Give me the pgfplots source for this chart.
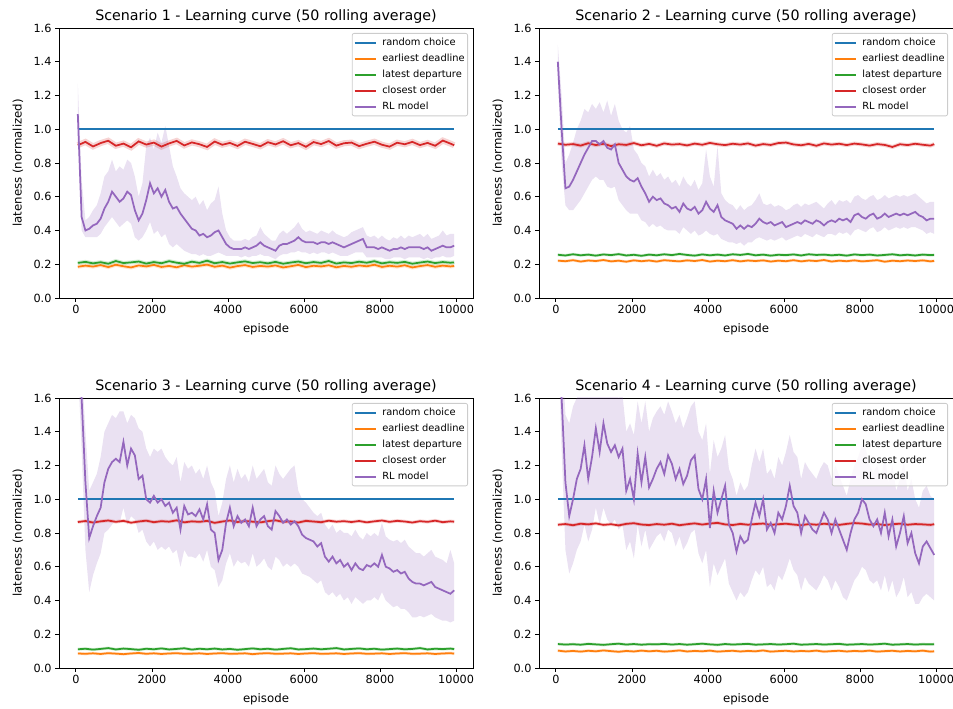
\documentclass[border=0pt]{standalone}
\usepackage{fontspec}
\setmainfont{DejaVu Sans}
\usepackage{pgfplots}
\usepackage{pgfplotstable}
\pgfplotsset{compat=1.18}
\usepgfplotslibrary{fillbetween}
\definecolor{c0}{HTML}{1F77B4}
\definecolor{c1}{HTML}{FF7F0E}
\definecolor{c2}{HTML}{2CA02C}
\definecolor{c3}{HTML}{D62728}
\definecolor{c4}{HTML}{9467BD}
\definecolor{lgframe}{HTML}{CCCCCC}

% ---------- baselines (x, earliest deadline, latest departure, closest order) ----------
\pgfplotstableread{
x ed ld co
50 0.185 0.208 0.905
250 0.192 0.214 0.925
450 0.186 0.205 0.898
650 0.195 0.212 0.918
850 0.183 0.203 0.932
1050 0.197 0.219 0.902
1250 0.188 0.207 0.915
1450 0.181 0.211 0.893
1650 0.193 0.216 0.928
1850 0.187 0.204 0.909
2050 0.196 0.213 0.921
2250 0.184 0.206 0.897
2450 0.190 0.218 0.916
2650 0.182 0.209 0.931
2850 0.194 0.203 0.904
3050 0.186 0.215 0.922
3250 0.191 0.208 0.911
3450 0.198 0.221 0.895
3650 0.185 0.206 0.927
3850 0.192 0.213 0.908
4050 0.180 0.204 0.919
4250 0.189 0.211 0.901
4450 0.195 0.217 0.926
4650 0.184 0.207 0.913
4850 0.190 0.212 0.899
5050 0.186 0.205 0.923
5250 0.193 0.214 0.910
5450 0.181 0.203 0.929
5650 0.188 0.210 0.905
5850 0.196 0.216 0.918
6050 0.183 0.206 0.896
6250 0.191 0.213 0.924
6450 0.187 0.208 0.912
6650 0.194 0.219 0.930
6850 0.182 0.204 0.903
7050 0.190 0.211 0.917
7250 0.185 0.207 0.921
7450 0.193 0.215 0.900
7650 0.188 0.209 0.914
7850 0.197 0.218 0.926
8050 0.184 0.205 0.908
8250 0.191 0.212 0.897
8450 0.186 0.208 0.920
8650 0.194 0.214 0.911
8850 0.181 0.203 0.925
9050 0.189 0.210 0.906
9250 0.195 0.216 0.919
9450 0.185 0.207 0.902
9650 0.192 0.213 0.933
9850 0.187 0.209 0.915
9950 0.190 0.211 0.905
}\baseA

\pgfplotstableread{
x ed ld co
50 0.221 0.256 0.915
250 0.218 0.252 0.908
450 0.224 0.259 0.912
650 0.216 0.253 0.903
850 0.222 0.257 0.917
1050 0.219 0.251 0.906
1250 0.225 0.258 0.914
1450 0.217 0.254 0.900
1650 0.221 0.260 0.911
1850 0.215 0.252 0.907
2050 0.223 0.256 0.918
2250 0.218 0.250 0.905
2450 0.222 0.257 0.913
2650 0.216 0.253 0.902
2850 0.224 0.259 0.916
3050 0.220 0.254 0.909
3250 0.217 0.261 0.912
3450 0.223 0.255 0.904
3650 0.219 0.251 0.915
3850 0.225 0.258 0.908
4050 0.216 0.253 0.919
4250 0.221 0.257 0.911
4450 0.218 0.252 0.906
4650 0.224 0.259 0.914
4850 0.217 0.255 0.909
5050 0.222 0.261 0.916
5250 0.219 0.253 0.903
5450 0.223 0.257 0.912
5650 0.216 0.251 0.907
5850 0.221 0.256 0.918
6050 0.218 0.254 0.921
6250 0.224 0.258 0.910
6450 0.217 0.252 0.905
6650 0.222 0.259 0.913
6850 0.219 0.255 0.902
7050 0.225 0.257 0.916
7250 0.216 0.253 0.909
7450 0.221 0.256 0.914
7650 0.218 0.251 0.906
7850 0.223 0.258 0.915
8050 0.217 0.254 0.910
8250 0.220 0.257 0.903
8450 0.224 0.252 0.912
8650 0.215 0.255 0.907
8850 0.221 0.259 0.895
9050 0.218 0.253 0.911
9250 0.222 0.256 0.906
9450 0.219 0.252 0.914
9650 0.223 0.257 0.908
9850 0.217 0.254 0.903
9950 0.220 0.255 0.912
}\baseB

\pgfplotstableread{
x ed ld co
50 0.086 0.111 0.865
250 0.084 0.114 0.871
450 0.087 0.109 0.862
650 0.083 0.113 0.869
850 0.088 0.118 0.874
1050 0.085 0.110 0.866
1250 0.082 0.115 0.872
1450 0.086 0.112 0.861
1650 0.089 0.108 0.868
1850 0.084 0.114 0.873
2050 0.087 0.111 0.864
2250 0.083 0.116 0.870
2450 0.086 0.110 0.867
2650 0.088 0.113 0.875
2850 0.084 0.117 0.863
3050 0.085 0.109 0.869
3250 0.087 0.114 0.866
3450 0.083 0.111 0.872
3650 0.086 0.115 0.860
3850 0.088 0.110 0.868
4050 0.084 0.113 0.874
4250 0.085 0.108 0.865
4450 0.087 0.112 0.871
4650 0.082 0.116 0.867
4850 0.086 0.111 0.863
5050 0.088 0.114 0.870
5250 0.084 0.109 0.875
5450 0.085 0.113 0.866
5650 0.087 0.117 0.869
5850 0.083 0.110 0.862
6050 0.086 0.112 0.872
6250 0.088 0.115 0.868
6450 0.084 0.111 0.864
6650 0.085 0.114 0.873
6850 0.087 0.118 0.867
7050 0.083 0.110 0.870
7250 0.086 0.113 0.865
7450 0.088 0.116 0.871
7650 0.084 0.111 0.863
7850 0.085 0.114 0.869
8050 0.087 0.109 0.874
8250 0.083 0.112 0.866
8450 0.086 0.115 0.872
8650 0.088 0.111 0.868
8850 0.084 0.113 0.862
9050 0.085 0.118 0.870
9250 0.087 0.110 0.866
9450 0.083 0.114 0.873
9650 0.086 0.112 0.864
9850 0.088 0.115 0.869
9950 0.085 0.112 0.867
}\baseC

\pgfplotstableread{
x ed ld co
50 0.103 0.142 0.849
250 0.098 0.139 0.853
450 0.101 0.141 0.846
650 0.097 0.138 0.855
850 0.102 0.143 0.851
1050 0.099 0.140 0.857
1250 0.104 0.137 0.848
1450 0.100 0.141 0.852
1650 0.096 0.144 0.845
1850 0.101 0.139 0.854
2050 0.098 0.142 0.858
2250 0.103 0.138 0.850
2450 0.099 0.141 0.847
2650 0.102 0.140 0.853
2850 0.097 0.143 0.849
3050 0.100 0.139 0.855
3250 0.104 0.142 0.846
3450 0.098 0.138 0.852
3650 0.101 0.141 0.857
3850 0.099 0.144 0.850
4050 0.103 0.140 0.856
4250 0.097 0.137 0.860
4450 0.100 0.142 0.851
4650 0.102 0.139 0.847
4850 0.098 0.141 0.854
5050 0.101 0.143 0.849
5250 0.099 0.138 0.853
5450 0.104 0.140 0.856
5650 0.097 0.142 0.848
5850 0.100 0.139 0.852
6050 0.102 0.141 0.855
6250 0.098 0.144 0.850
6450 0.101 0.138 0.846
6650 0.099 0.140 0.853
6850 0.103 0.142 0.849
7050 0.097 0.139 0.855
7250 0.100 0.141 0.851
7450 0.102 0.143 0.848
7650 0.098 0.138 0.854
7850 0.101 0.140 0.859
8050 0.099 0.142 0.856
8250 0.103 0.139 0.850
8450 0.097 0.141 0.853
8650 0.100 0.144 0.847
8850 0.102 0.138 0.852
9050 0.098 0.140 0.855
9250 0.101 0.142 0.849
9450 0.099 0.139 0.853
9650 0.103 0.141 0.851
9850 0.097 0.140 0.848
9950 0.099 0.141 0.852
}\baseD

% ---------- RL model (x, mean, lower, upper) ----------
\pgfplotstableread{
x rl lo hi
50 1.09 1.00 1.27
150 0.48 0.40 0.70
250 0.40 0.36 0.46
350 0.41 0.36 0.48
450 0.43 0.36 0.52
550 0.44 0.36 0.55
650 0.47 0.38 0.62
750 0.53 0.42 0.72
850 0.57 0.45 0.75
950 0.63 0.48 0.82
1050 0.60 0.45 0.75
1150 0.57 0.42 0.78
1250 0.59 0.44 0.76
1350 0.63 0.46 0.82
1450 0.61 0.44 0.80
1550 0.52 0.36 0.72
1650 0.46 0.34 0.60
1750 0.50 0.36 0.68
1850 0.58 0.40 0.90
1950 0.68 0.45 0.95
2050 0.62 0.38 0.88
2150 0.65 0.40 0.98
2250 0.60 0.36 0.92
2350 0.64 0.38 1.02
2450 0.57 0.32 0.90
2550 0.53 0.30 0.78
2650 0.54 0.32 0.72
2750 0.50 0.30 0.65
2850 0.47 0.28 0.62
2950 0.44 0.27 0.60
3050 0.41 0.26 0.58
3150 0.40 0.26 0.60
3250 0.37 0.25 0.55
3350 0.38 0.26 0.58
3450 0.36 0.25 0.52
3550 0.37 0.25 0.56
3650 0.39 0.26 0.58
3750 0.40 0.27 0.66
3850 0.36 0.26 0.50
3950 0.32 0.25 0.40
4050 0.30 0.25 0.36
4150 0.29 0.25 0.34
4250 0.29 0.25 0.34
4350 0.29 0.24 0.34
4450 0.30 0.25 0.35
4550 0.29 0.24 0.34
4650 0.30 0.25 0.36
4750 0.31 0.25 0.37
4850 0.33 0.26 0.42
4950 0.31 0.25 0.38
5050 0.30 0.25 0.36
5150 0.29 0.24 0.34
5250 0.28 0.23 0.34
5350 0.31 0.25 0.38
5450 0.32 0.26 0.40
5550 0.32 0.26 0.38
5650 0.33 0.27 0.40
5750 0.34 0.27 0.42
5850 0.36 0.28 0.45
5950 0.34 0.27 0.41
6050 0.33 0.27 0.39
6150 0.33 0.26 0.40
6250 0.33 0.27 0.39
6350 0.32 0.26 0.38
6450 0.33 0.27 0.40
6550 0.33 0.27 0.39
6650 0.32 0.26 0.38
6750 0.33 0.27 0.40
6850 0.32 0.26 0.38
6950 0.31 0.25 0.37
7050 0.30 0.25 0.36
7150 0.31 0.25 0.37
7250 0.32 0.26 0.39
7350 0.33 0.27 0.40
7450 0.34 0.27 0.41
7550 0.35 0.27 0.42
7650 0.30 0.24 0.37
7750 0.30 0.24 0.36
7850 0.30 0.24 0.37
7950 0.29 0.24 0.35
8050 0.30 0.24 0.37
8150 0.29 0.23 0.35
8250 0.28 0.23 0.34
8350 0.29 0.24 0.36
8450 0.29 0.24 0.35
8550 0.30 0.24 0.37
8650 0.29 0.23 0.35
8750 0.30 0.24 0.37
8850 0.30 0.24 0.36
8950 0.30 0.24 0.37
9050 0.30 0.24 0.38
9150 0.29 0.23 0.36
9250 0.30 0.24 0.38
9350 0.28 0.23 0.35
9450 0.29 0.24 0.36
9550 0.30 0.24 0.37
9650 0.31 0.25 0.40
9750 0.30 0.24 0.37
9850 0.30 0.24 0.38
9950 0.31 0.25 0.38
}\rlA

\pgfplotstableread{
x rl lo hi
50 1.40 1.30 1.50
150 1.00 0.80 1.20
250 0.65 0.55 0.80
350 0.66 0.52 0.85
450 0.70 0.52 0.92
550 0.75 0.55 1.00
650 0.80 0.58 1.05
750 0.85 0.62 1.12
850 0.89 0.66 1.10
950 0.93 0.70 1.15
1050 0.93 0.72 1.12
1150 0.91 0.70 1.16
1250 0.93 0.70 1.10
1350 0.89 0.66 1.17
1450 0.88 0.65 1.08
1550 0.91 0.66 1.15
1650 0.80 0.58 1.05
1750 0.76 0.55 1.00
1850 0.72 0.52 0.98
1950 0.70 0.50 1.02
2050 0.69 0.50 0.88
2150 0.71 0.50 0.85
2250 0.66 0.46 0.80
2350 0.62 0.45 0.78
2450 0.57 0.42 0.72
2550 0.60 0.44 0.76
2650 0.58 0.42 0.72
2750 0.59 0.43 0.74
2850 0.56 0.41 0.70
2950 0.55 0.40 0.72
3050 0.53 0.40 0.68
3150 0.54 0.40 0.70
3250 0.51 0.38 0.66
3350 0.56 0.42 0.72
3450 0.53 0.40 0.68
3550 0.52 0.38 0.66
3650 0.54 0.40 0.70
3750 0.50 0.37 0.64
3850 0.52 0.38 0.68
3950 0.57 0.40 0.88
4050 0.53 0.38 0.72
4150 0.51 0.37 0.66
4250 0.55 0.38 0.90
4350 0.48 0.35 0.62
4450 0.46 0.34 0.58
4550 0.45 0.33 0.56
4650 0.44 0.33 0.55
4750 0.41 0.32 0.52
4850 0.43 0.33 0.55
4950 0.41 0.31 0.52
5050 0.43 0.33 0.54
5150 0.42 0.33 0.55
5250 0.44 0.35 0.58
5350 0.47 0.36 0.62
5450 0.45 0.35 0.56
5550 0.44 0.34 0.55
5650 0.45 0.35 0.56
5750 0.43 0.34 0.54
5850 0.44 0.35 0.55
5950 0.45 0.36 0.54
6050 0.42 0.34 0.52
6150 0.43 0.35 0.53
6250 0.44 0.36 0.55
6350 0.45 0.37 0.56
6450 0.44 0.36 0.54
6550 0.46 0.38 0.56
6650 0.45 0.37 0.55
6750 0.44 0.36 0.56
6850 0.46 0.38 0.57
6950 0.45 0.37 0.55
7050 0.43 0.36 0.53
7150 0.45 0.38 0.56
7250 0.46 0.38 0.58
7350 0.45 0.37 0.55
7450 0.47 0.39 0.58
7550 0.46 0.38 0.57
7650 0.47 0.39 0.58
7750 0.45 0.37 0.56
7850 0.49 0.40 0.60
7950 0.50 0.41 0.61
8050 0.48 0.40 0.59
8150 0.47 0.39 0.58
8250 0.49 0.41 0.60
8350 0.50 0.42 0.61
8450 0.47 0.39 0.58
8550 0.48 0.40 0.59
8650 0.50 0.42 0.61
8750 0.48 0.40 0.59
8850 0.49 0.41 0.60
8950 0.50 0.42 0.61
9050 0.49 0.41 0.60
9150 0.50 0.42 0.61
9250 0.49 0.41 0.60
9350 0.50 0.42 0.61
9450 0.51 0.42 0.62
9550 0.49 0.41 0.60
9650 0.48 0.40 0.58
9750 0.46 0.38 0.56
9850 0.47 0.39 0.57
9950 0.47 0.38 0.57
}\rlB

\pgfplotstableread{
x rl lo hi
50 1.95 1.80 2.10
150 1.60 1.30 1.80
250 1.10 0.70 1.40
350 0.77 0.45 1.05
450 0.84 0.55 1.10
550 0.90 0.62 1.15
650 0.95 0.68 1.25
750 1.10 0.80 1.40
850 1.18 0.82 1.45
950 1.22 0.85 1.50
1050 1.24 0.88 1.48
1150 1.22 0.86 1.52
1250 1.34 0.95 1.52
1350 1.20 0.85 1.45
1450 1.30 0.90 1.50
1550 1.26 0.88 1.48
1650 1.12 0.80 1.42
1750 1.14 0.82 1.40
1850 1.00 0.75 1.30
1950 0.98 0.72 1.25
2050 1.02 0.75 1.30
2150 0.98 0.70 1.28
2250 1.00 0.72 1.30
2350 0.96 0.70 1.25
2450 0.98 0.72 1.22
2550 0.92 0.68 1.20
2650 0.95 0.70 1.25
2750 0.82 0.60 1.10
2850 0.96 0.70 1.22
2950 0.91 0.66 1.18
3050 0.92 0.66 1.20
3150 0.90 0.65 1.15
3250 0.94 0.68 1.18
3350 0.88 0.63 1.12
3450 0.97 0.70 1.20
3550 0.82 0.60 1.10
3650 0.80 0.58 1.05
3750 0.64 0.48 0.90
3850 0.70 0.52 0.98
3950 0.86 0.62 1.12
4050 0.95 0.68 1.20
4150 0.84 0.60 1.10
4250 0.90 0.64 1.18
4350 0.86 0.62 1.12
4450 0.88 0.63 1.15
4550 0.84 0.60 1.10
4650 0.95 0.68 1.20
4750 0.84 0.60 1.12
4850 0.88 0.62 1.15
4950 0.90 0.65 1.18
5050 0.84 0.60 1.10
5150 0.82 0.58 1.08
5250 0.93 0.66 1.20
5350 0.90 0.64 1.15
5450 0.86 0.60 1.12
5550 0.88 0.62 1.15
5650 0.85 0.60 1.18
5750 0.87 0.62 1.20
5850 0.84 0.60 1.05
5950 0.79 0.56 1.00
6050 0.77 0.55 0.98
6150 0.76 0.54 0.95
6250 0.75 0.52 0.92
6350 0.72 0.50 0.90
6450 0.74 0.52 0.92
6550 0.66 0.45 0.85
6650 0.63 0.43 0.82
6750 0.66 0.45 0.85
6850 0.62 0.42 0.80
6950 0.64 0.44 0.82
7050 0.60 0.40 0.80
7150 0.62 0.42 0.80
7250 0.58 0.38 0.78
7350 0.62 0.42 0.82
7450 0.59 0.40 0.78
7550 0.58 0.38 0.76
7650 0.61 0.40 0.80
7750 0.60 0.40 0.78
7850 0.62 0.42 0.80
7950 0.60 0.40 0.78
8050 0.67 0.45 0.86
8150 0.60 0.40 0.78
8250 0.59 0.38 0.76
8350 0.57 0.36 0.75
8450 0.58 0.37 0.76
8550 0.56 0.35 0.74
8650 0.57 0.35 0.76
8750 0.53 0.33 0.72
8850 0.51 0.30 0.70
8950 0.50 0.30 0.68
9050 0.50 0.31 0.68
9150 0.49 0.30 0.66
9250 0.50 0.31 0.68
9350 0.51 0.32 0.70
9450 0.48 0.30 0.66
9550 0.47 0.29 0.65
9650 0.46 0.28 0.64
9750 0.45 0.28 0.62
9850 0.44 0.27 0.70
9950 0.46 0.28 0.62
}\rlC

\pgfplotstableread{
x rl lo hi
50 2.20 2.00 2.40
150 1.60 1.30 1.90
250 1.10 0.70 1.50
350 0.90 0.56 1.45
450 1.00 0.62 1.55
550 1.12 0.70 1.60
650 1.18 0.75 1.65
750 1.32 0.85 1.70
850 1.12 0.75 1.60
950 1.25 0.82 1.65
1050 1.42 0.95 1.70
1150 1.28 0.85 1.62
1250 1.45 0.95 1.75
1350 1.33 0.88 1.65
1450 1.28 0.85 1.62
1550 1.32 0.88 1.65
1650 1.25 0.82 1.60
1750 1.30 0.85 1.62
1850 1.05 0.70 1.40
1950 1.12 0.75 1.45
2050 1.00 0.65 1.38
2150 1.27 0.85 1.58
2250 1.10 0.72 1.45
2350 1.25 0.82 1.58
2450 1.07 0.70 1.40
2550 1.12 0.74 1.48
2650 1.18 0.78 1.52
2750 1.22 0.80 1.55
2850 1.15 0.75 1.50
2950 1.26 0.82 1.58
3050 1.21 0.80 1.52
3150 1.12 0.72 1.45
3250 1.18 0.78 1.50
3350 1.09 0.70 1.42
3450 1.14 0.74 1.48
3550 1.23 0.80 1.55
3650 1.26 0.82 1.58
3750 1.06 0.68 1.40
3850 1.00 0.62 1.35
3950 1.12 0.70 1.45
4050 0.83 0.48 1.15
4150 1.05 0.62 1.35
4250 0.92 0.55 1.25
4350 1.00 0.60 1.30
4450 1.08 0.65 1.38
4550 0.85 0.50 1.18
4650 0.80 0.45 1.12
4750 0.69 0.40 1.02
4850 0.78 0.45 1.10
4950 0.74 0.42 1.05
5050 0.76 0.45 1.08
5150 0.88 0.52 1.20
5250 0.98 0.58 1.30
5350 0.90 0.55 1.22
5450 1.00 0.60 1.30
5550 0.82 0.48 1.15
5650 0.86 0.50 1.18
5750 0.80 0.46 1.12
5850 0.92 0.55 1.25
5950 0.88 0.52 1.20
6050 0.96 0.58 1.28
6150 1.08 0.65 1.38
6250 0.96 0.58 1.28
6350 0.92 0.55 1.25
6450 0.80 0.46 1.12
6550 0.90 0.54 1.22
6650 0.86 0.50 1.18
6750 0.82 0.48 1.15
6850 0.80 0.46 1.12
6950 0.86 0.50 1.18
7050 0.92 0.55 1.22
7150 0.88 0.52 1.20
7250 0.80 0.46 1.12
7350 0.88 0.52 1.20
7450 0.82 0.48 1.14
7550 0.76 0.42 1.08
7650 0.70 0.40 1.02
7750 0.80 0.46 1.12
7850 0.88 0.52 1.20
7950 0.92 0.55 1.25
8050 1.00 0.60 1.32
8150 0.97 0.58 1.30
8250 0.88 0.52 1.20
8350 0.84 0.50 1.16
8450 0.88 0.52 1.20
8550 0.80 0.46 1.12
8650 0.92 0.55 1.25
8750 0.78 0.45 1.10
8850 0.88 0.52 1.20
8950 0.72 0.42 1.05
9050 0.80 0.46 1.12
9150 0.90 0.54 1.22
9250 0.74 0.42 1.05
9350 0.80 0.45 1.12
9450 0.68 0.38 1.00
9550 0.62 0.38 0.95
9650 0.72 0.42 1.05
9750 0.75 0.44 1.08
9850 0.71 0.42 1.02
9950 0.67 0.40 1.00
}\rlD

\pgfplotsset{
  lw/.style={line width=1.75bp},
  panel/.style={
    scale only axis, width=414bp, height=270bp,
    xmin=-445, xmax=10445, ymin=0, ymax=1.6,
    xtick={0,2000,4000,6000,8000,10000},
    ytick={0,0.2,0.4,0.6,0.8,1.0,1.2,1.4,1.6},
    scaled x ticks=false, scaled y ticks=false,
    tick align=outside, tick pos=left,
    major tick length=4bp,
    major tick style={black, line width=0.9bp},
    axis line style={black, line width=0.9bp},
    tick label style={font=\fontsize{11.3}{13}\selectfont},
    /pgf/number format/assume math mode=true,
    xticklabel style={/pgf/number format/1000 sep={}},
    yticklabel style={/pgf/number format/.cd, fixed, fixed zerofill, precision=1},
    xlabel={episode}, ylabel={lateness (normalized)},
    label style={font=\fontsize{11.8}{14}\selectfont},
    xlabel style={at={(axis description cs:0.5,-0.1296)}, anchor=base},
    ylabel style={at={(axis description cs:-0.099,0.5)}, anchor=center},
    title style={font=\fontsize{14.3}{17}\selectfont, at={(axis description cs:0.5,1)}, anchor=base, yshift=1.3bp},
    legend cell align=left,
    legend image code/.code={\draw[##1] (0bp,0bp) -- (21bp,0bp);},
    legend style={at={(1,1)}, anchor=north east, xshift=-5bp, yshift=-5bp,
      draw=lgframe, line width=0.8bp, rounded corners=2bp, fill=white, fill opacity=0.8, text opacity=1,
      font=\fontsize{9.9}{11}\selectfont, inner xsep=1.5bp, inner ysep=3bp,
      nodes={inner sep=1.5bp, text height=7.2bp, text depth=2.3bp},
      /tikz/every odd column/.append style={column sep=4.4bp},
      row sep=3.5bp},
  },
}

\begin{document}
\begin{tikzpicture}[x=1bp,y=1bp]

% ---------------- Scenario 1 ----------------
\begin{axis}[panel, at={(59bp,411bp)}, anchor=south west,
  title={Scenario 1 - Learning curve (50 rolling average)}]
\addplot[c0, lw] coordinates {(50,1) (9950,1)};
\addplot[c1, line width=4bp, opacity=0.2, forget plot] table[x=x,y=ed]{\baseA};
\addplot[c1, lw] table[x=x,y=ed]{\baseA};
\addplot[c2, line width=4bp, opacity=0.2, forget plot] table[x=x,y=ld]{\baseA};
\addplot[c2, lw] table[x=x,y=ld]{\baseA};
\addplot[c3, line width=6bp, opacity=0.2, forget plot] table[x=x,y=co]{\baseA};
\addplot[c3, lw] table[x=x,y=co]{\baseA};
\addplot[name path=hiA, draw=none, forget plot] table[x=x,y=hi]{\rlA};
\addplot[name path=loA, draw=none, forget plot] table[x=x,y=lo]{\rlA};
\addplot[fill=c4, fill opacity=0.2, draw=none, forget plot] fill between[of=hiA and loA];
\addplot[c4, lw] table[x=x,y=rl]{\rlA};
\legend{random choice, earliest deadline, latest departure, closest order, RL model}
\end{axis}

% ---------------- Scenario 2 ----------------
\begin{axis}[panel, at={(539bp,411bp)}, anchor=south west,
  title={Scenario 2 - Learning curve (50 rolling average)}]
\addplot[c0, lw] coordinates {(50,1) (9950,1)};
\addplot[c1, line width=3bp, opacity=0.2, forget plot] table[x=x,y=ed]{\baseB};
\addplot[c1, lw] table[x=x,y=ed]{\baseB};
\addplot[c2, line width=3bp, opacity=0.2, forget plot] table[x=x,y=ld]{\baseB};
\addplot[c2, lw] table[x=x,y=ld]{\baseB};
\addplot[c3, line width=4bp, opacity=0.2, forget plot] table[x=x,y=co]{\baseB};
\addplot[c3, lw] table[x=x,y=co]{\baseB};
\addplot[name path=hiB, draw=none, forget plot] table[x=x,y=hi]{\rlB};
\addplot[name path=loB, draw=none, forget plot] table[x=x,y=lo]{\rlB};
\addplot[fill=c4, fill opacity=0.2, draw=none, forget plot] fill between[of=hiB and loB];
\addplot[c4, lw] table[x=x,y=rl]{\rlB};
\legend{random choice, earliest deadline, latest departure, closest order, RL model}
\end{axis}

% ---------------- Scenario 3 ----------------
\begin{axis}[panel, at={(59bp,41bp)}, anchor=south west,
  title={Scenario 3 - Learning curve (50 rolling average)}]
\addplot[c0, lw] coordinates {(50,1) (9950,1)};
\addplot[c1, line width=3bp, opacity=0.2, forget plot] table[x=x,y=ed]{\baseC};
\addplot[c1, lw] table[x=x,y=ed]{\baseC};
\addplot[c2, line width=3bp, opacity=0.2, forget plot] table[x=x,y=ld]{\baseC};
\addplot[c2, lw] table[x=x,y=ld]{\baseC};
\addplot[c3, line width=3.5bp, opacity=0.2, forget plot] table[x=x,y=co]{\baseC};
\addplot[c3, lw] table[x=x,y=co]{\baseC};
\addplot[name path=hiC, draw=none, forget plot] table[x=x,y=hi]{\rlC};
\addplot[name path=loC, draw=none, forget plot] table[x=x,y=lo]{\rlC};
\addplot[fill=c4, fill opacity=0.2, draw=none, forget plot] fill between[of=hiC and loC];
\addplot[c4, lw] table[x=x,y=rl]{\rlC};
\legend{random choice, earliest deadline, latest departure, closest order, RL model}
\end{axis}

% ---------------- Scenario 4 ----------------
\begin{axis}[panel, at={(539bp,41bp)}, anchor=south west,
  title={Scenario 4 - Learning curve (50 rolling average)}]
\addplot[c0, lw] coordinates {(50,1) (9950,1)};
\addplot[c1, line width=3bp, opacity=0.2, forget plot] table[x=x,y=ed]{\baseD};
\addplot[c1, lw] table[x=x,y=ed]{\baseD};
\addplot[c2, line width=3bp, opacity=0.2, forget plot] table[x=x,y=ld]{\baseD};
\addplot[c2, lw] table[x=x,y=ld]{\baseD};
\addplot[c3, line width=3.5bp, opacity=0.2, forget plot] table[x=x,y=co]{\baseD};
\addplot[c3, lw] table[x=x,y=co]{\baseD};
\addplot[name path=hiD, draw=none, forget plot] table[x=x,y=hi]{\rlD};
\addplot[name path=loD, draw=none, forget plot] table[x=x,y=lo]{\rlD};
\addplot[fill=c4, fill opacity=0.2, draw=none, forget plot] fill between[of=hiD and loD];
\addplot[c4, lw] table[x=x,y=rl]{\rlD};
\legend{random choice, earliest deadline, latest departure, closest order, RL model}
\end{axis}

\pgfresetboundingbox
\useasboundingbox (0,0) rectangle (953,709);
\end{tikzpicture}
\end{document}
